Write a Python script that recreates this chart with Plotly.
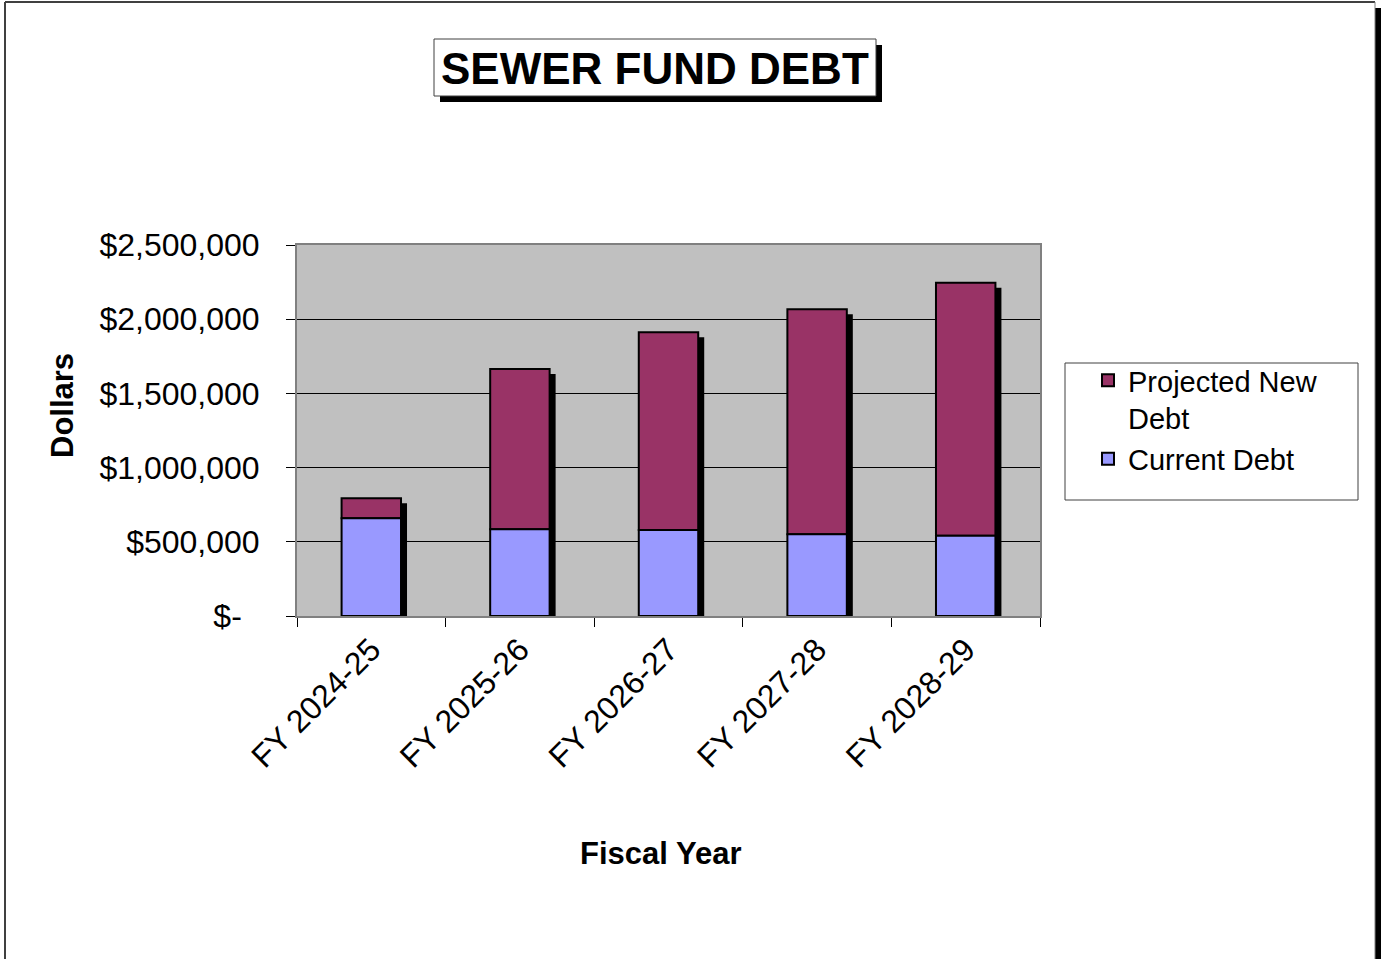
import plotly.graph_objects as go

categories = ["FY 2024-25", "FY 2025-26", "FY 2026-27", "FY 2027-28", "FY 2028-29"]
current_debt = [658000, 584000, 580000, 551000, 541000]
projected_new_debt = [135000, 1080000, 1332000, 1516000, 1705000]
y_tick_vals = [0, 500000, 1000000, 1500000, 2000000, 2500000]
y_tick_text = ["$-\u00a0\u00a0", "$500,000", "$1,000,000", "$1,500,000", "$2,000,000", "$2,500,000"]

FONT = "Liberation Sans, Arial, sans-serif"
W, H = 1384, 959
L, R, T, B = 297, 1040, 245, 616
PW, PH = R - L, B - T


def px(xp):
    return (xp - L) / PW


def py(yp):
    return (B - yp) / PH


totals = [c + p for c, p in zip(current_debt, projected_new_debt)]
ymax = 2500000
shadow_dy = 5 / PH * ymax
bar_w = 0.4
shadow_dx = 6 / (PW / len(categories))

fig = go.Figure()
fig.add_trace(go.Bar(
    x=categories, y=totals, base=[-shadow_dy] * len(categories),
    width=bar_w, offset=-bar_w / 2 + shadow_dx,
    marker=dict(color="black", line=dict(width=0)),
    showlegend=False, hoverinfo="skip",
))
fig.add_trace(go.Bar(
    x=categories, y=projected_new_debt, base=current_debt,
    width=bar_w, offset=-bar_w / 2,
    name="Projected New<br>Debt",
    marker=dict(color="#993366", line=dict(color="black", width=2)),
))
fig.add_trace(go.Bar(
    x=categories, y=current_debt, base=[0] * len(categories),
    width=bar_w, offset=-bar_w / 2,
    name="Current Debt",
    marker=dict(color="#9999FF", line=dict(color="black", width=2)),
))

shapes = [
    # page frame
    dict(type="line", xref="paper", yref="paper", x0=px(5), x1=px(5), y0=py(2), y1=py(970),
         line=dict(color="#404040", width=2)),
    dict(type="line", xref="paper", yref="paper", x0=px(5), x1=px(1375), y0=py(2), y1=py(2),
         line=dict(color="#404040", width=2)),
    dict(type="rect", xref="paper", yref="paper", x0=px(1375), x1=px(1381), y0=py(8), y1=py(970),
         fillcolor="black", line=dict(width=0)),
    dict(type="line", xref="paper", yref="paper", x0=px(1375), x1=px(1375), y0=py(2), y1=py(970),
         line=dict(color="#808080", width=1)),
    # title box
    dict(type="rect", xref="paper", yref="paper", x0=px(440), x1=px(882), y0=py(45), y1=py(102),
         fillcolor="black", line=dict(width=0)),
    dict(type="rect", xref="paper", yref="paper", x0=px(434), x1=px(876), y0=py(39), y1=py(96),
         fillcolor="white", line=dict(color="#404040", width=1)),
    # legend box
    dict(type="rect", xref="paper", yref="paper", x0=px(1065), x1=px(1358), y0=py(363), y1=py(500),
         fillcolor="white", line=dict(color="#404040", width=1), layer="below"),
]

annotations = [
    dict(text="<b>SEWER FUND DEBT</b>", xref="paper", yref="paper", x=px(655), y=py(68),
         xanchor="center", yanchor="middle", showarrow=False,
         font=dict(family=FONT, size=44, color="black")),
    dict(text="<b>Dollars</b>", xref="paper", yref="paper", x=px(62), y=py(406),
         xanchor="center", yanchor="middle", showarrow=False, textangle=-90,
         font=dict(family=FONT, size=31, color="black")),
    dict(text="<b>Fiscal Year</b>", xref="paper", yref="paper", x=px(660), y=py(853),
         xanchor="center", yanchor="middle", showarrow=False,
         font=dict(family=FONT, size=31, color="black")),
]

fig.update_layout(
    width=W, height=H,
    margin=dict(l=L, r=W - R, t=T, b=H - B, pad=0),
    paper_bgcolor="white", plot_bgcolor="#C0C0C0",
    barmode="overlay",
    font=dict(family=FONT, size=29, color="black"),
    shapes=shapes, annotations=annotations,
    legend=dict(x=px(1088), y=py(355), xanchor="left", yanchor="top",
                bgcolor="rgba(0,0,0,0)", borderwidth=0, valign="top",
                font=dict(family=FONT, size=29, color="black"), traceorder="normal",
                tracegroupgap=0),
    showlegend=True,
)
fig.update_xaxes(
    type="category", tickangle=-45, tickson="boundaries", ticks="outside", ticklen=9,
    tickcolor="black", tickfont=dict(family=FONT, size=32, color="black"),
    showline=True, linecolor="#808080", linewidth=2, mirror=True, showgrid=False,
    range=[-0.5, len(categories) - 0.5],
)
fig.update_yaxes(
    range=[0, ymax], tickvals=y_tick_vals, ticktext=y_tick_text, ticks="outside", ticklen=9,
    tickcolor="black", tickfont=dict(family=FONT, size=32, color="black"),
    showline=True, linecolor="#808080", linewidth=2, mirror=True,
    showgrid=True, gridcolor="black", gridwidth=1, zeroline=False,
    ticklabelstandoff=20,
)

fig.write_html("out.html")
